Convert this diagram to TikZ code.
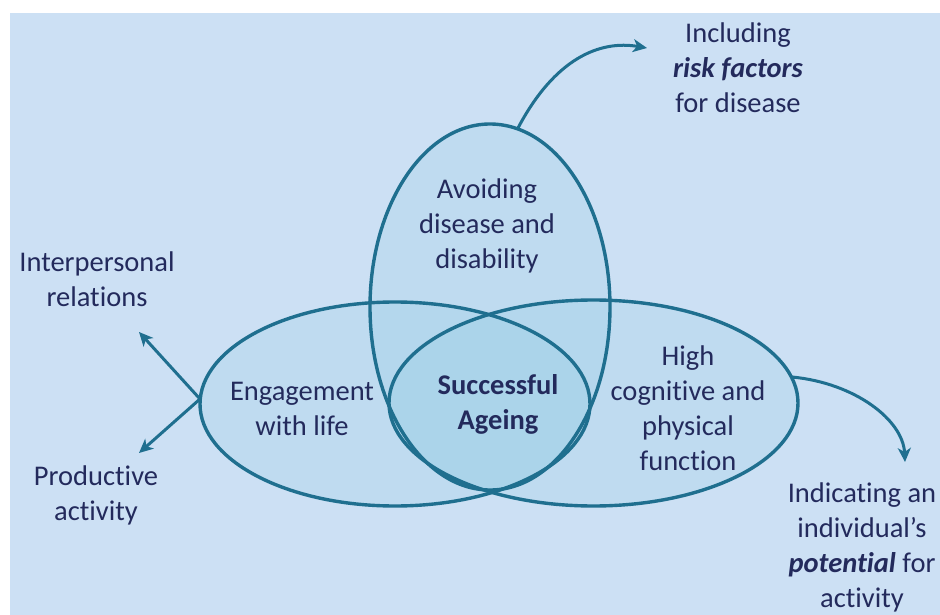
\documentclass[tikz,border=0pt]{standalone}
\usepackage{fontspec}
\setmainfont[Ligatures=NoCommon]{Carlito}
\usetikzlibrary{arrows.meta}
\definecolor{bgblue}{RGB}{204,224,244}
\definecolor{ringblue}{RGB}{31,111,143}
\definecolor{vennfill}{RGB}{120,195,222}
\definecolor{txtnavy}{RGB}{35,42,92}

\begin{document}
\begin{tikzpicture}[x=1pt, y=-1pt,
  ring/.style={draw=ringblue, line width=3.4pt},
  venn/.style={fill=vennfill, fill opacity=0.15},
  lbl/.style={text=txtnavy, align=center, inner sep=0pt, font=\fontsize{28.5}{35}\selectfont},
  arr/.style={->, draw=ringblue, line width=3pt, >={Stealth[length=14pt, width=13pt, inset=4pt]}}]
\useasboundingbox (0,0) rectangle (940,615);
\fill [bgblue] (10,13) rectangle (940,615);
% three overlapping ellipses
\foreach \cx/\cy/\rx/\ry in {490/307/120/183, 395/404/195/102, 593.5/403/204.5/103}
  \fill [venn] (\cx,\cy) ellipse [x radius=\rx, y radius=\ry];
\foreach \cx/\cy/\rx/\ry in {490/307/120/183, 395/404/195/102, 593.5/403/204.5/103}
  \draw [ring] (\cx,\cy) ellipse [x radius=\rx, y radius=\ry];
% where the arrows leave the ellipses and end
\coordinate (avoidtop) at (518,128);
\coordinate (funcright) at (792,377);
\coordinate (engleft) at (200,399);
\coordinate (riskend) at (647,48);
\coordinate (potend) at (905,462);
\coordinate (relend) at (139,332);
\coordinate (prodend) at (139,453);
% labels
\node [lbl] (risk) at (738,68) {Including\\\textbf{\textit{risk factors}}\\for disease};
\node [lbl] (avoid) at (487,226) {Avoiding\\disease and\\disability};
\node [lbl] (rel) at (97,279) {Interpersonal\\relations};
\node [lbl] (engage) at (302,409) {Engagement\\with life};
\node [lbl, font=\fontsize{28.5}{35}\selectfont\bfseries] (success) at (498,404) {Successful\\Ageing};
\node [lbl] (func) at (688,408) {High\\cognitive and\\physical\\function};
\node [lbl] (prod) at (96,495) {Productive\\activity};
\node [lbl] (pot) at (862,547) {Indicating an\\individual’s\\\textbf{\textit{potential}} for\\activity};
% arrows
\draw [arr] (avoidtop) .. controls (555,58) and (600,40) .. (riskend);
\draw [arr] (funcright) .. controls (855,383) and (903,420) .. (potend);
\draw [arr] (engleft) -- (relend);
\draw [arr] (engleft) -- (prodend);
\end{tikzpicture}
\end{document}
